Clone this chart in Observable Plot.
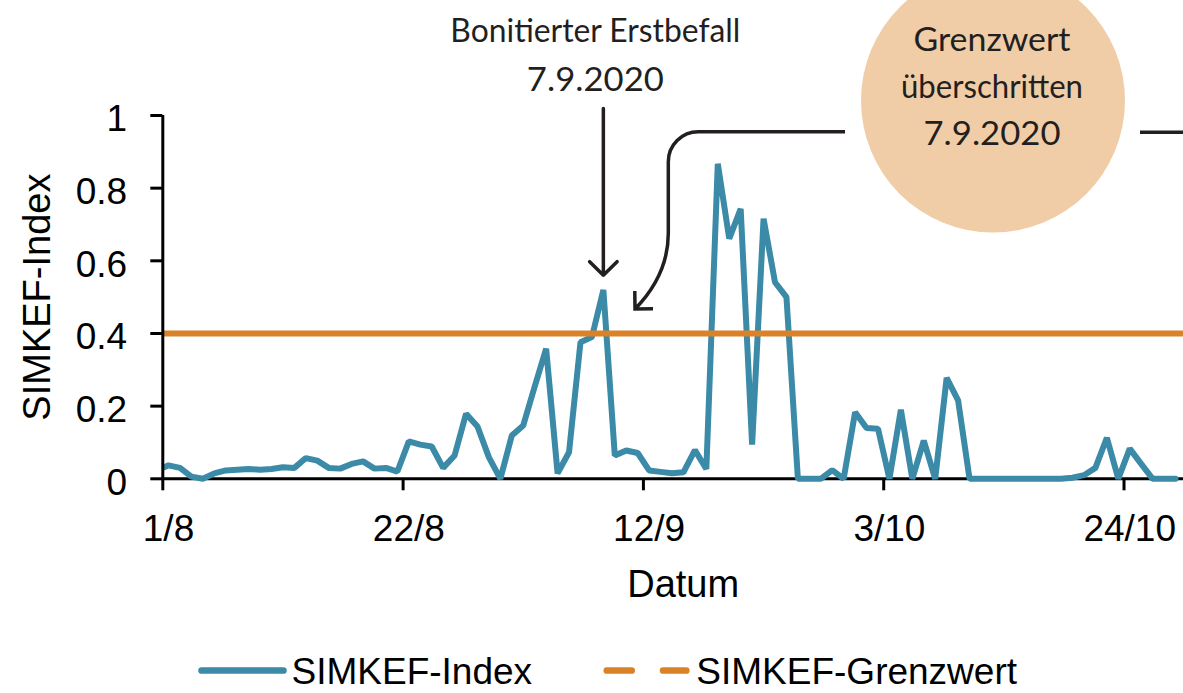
<!DOCTYPE html>
<html>
<head>
<meta charset="utf-8">
<script src="https://cdn.jsdelivr.net/npm/d3@7"></script>
<script src="https://cdn.jsdelivr.net/npm/@observablehq/plot@0.6"></script>
<style>
  html, body { margin: 0; padding: 0; background: #fff; }
  body { width: 1183px; height: 693px; overflow: hidden; font-family: "Liberation Sans", Arial, sans-serif; }
  #chart svg, #legend svg { display: block; }
</style>
</head>
<body>
<div id="chart"></div>
<div id="legend"></div>
<script>
// ---------------- data ----------------
const startDate = "2020-07-31";            // date of the first value (daily values)
const simkefIndex = [
  0.023,
  0.037, 0.030, 0.006, 0.000, 0.015, 0.023, 0.025, 0.027, 0.025, 0.027,
  0.032, 0.030, 0.057, 0.050, 0.030, 0.028, 0.041, 0.048, 0.028, 0.030,
  0.020, 0.103, 0.094, 0.089, 0.030, 0.064, 0.179, 0.144, 0.059, 0.000,
  0.119, 0.147, 0.254, 0.358, 0.015, 0.073, 0.376, 0.390, 0.520, 0.064,
  0.078, 0.071, 0.023, 0.019, 0.015, 0.018, 0.079, 0.027, 0.867, 0.661,
  0.743, 0.094, 0.716, 0.541, 0.500, 0.000, 0.000, 0.000, 0.024, 0.000,
  0.183, 0.140, 0.138, 0.000, 0.190, 0.000, 0.105, 0.000, 0.278, 0.216,
  0.000, 0.000, 0.000, 0.000, 0.000, 0.000, 0.000, 0.000, 0.000, 0.003,
  0.010, 0.030, 0.113, 0.000, 0.083, 0.041, 0.000, 0.000, 0.000
];
const threshold = 0.4;
const seriesNames = ["SIMKEF-Index", "SIMKEF-Grenzwert"];
const yTicks = [0, 0.2, 0.4, 0.6, 0.8, 1];
const xTickDates = ["2020-08-01", "2020-08-22", "2020-09-12", "2020-10-03", "2020-10-24"];
const xTickLabels = ["1/8", "22/8", "12/9", "3/10", "24/10"];
const xDomain = ["2020-08-01T00:00Z", "2020-10-29T04:45Z"];
const axisTitles = {x: "Datum", y: "SIMKEF-Index"};

// annotations (data space)
const firstInfestation = {date: "2020-09-08T12:00Z", from: 1.019, to: 0.560};
const firstInfestationText = [
  {text: "Bonitierter Erstbefall", value: 1.230, width: 290},
  {text: "7.9.2020", value: 1.097, width: 137}
];
const exceedBubble = {date: "2020-10-12T13:12Z", value: 1.041};
const exceedText = [
  {text: "Grenzwert", value: 1.207, width: 157},
  {text: "überschritten", value: 1.077, width: 182},
  {text: "7.9.2020", value: 0.946, width: 137}
];
const connectorPoints = [
  {date: "2020-09-29T15:50Z", value: 0.954},
  {date: "2020-09-14T05:17Z", value: 0.954},
  {date: "2020-09-14T05:17Z", value: 0.675},
  {date: "2020-09-14T05:17Z", value: 0.560},
  {date: "2020-09-11T07:26Z", value: 0.466}
];
const connectorRight = {from: "2020-10-25T10:34Z", to: "2020-10-31T00:00Z", value: 0.954};

// ---------------- styles ----------------
const blue = "#3a8aa8", orange = "#d98228", peach = "#f0cda6", ink = "#231f20";
const annoFont = "Lato, 'Open Sans', sans-serif";

// ---------------- build ----------------
const DAY = 864e5;
const t0 = new Date(startDate + "T12:00:00Z");
const series = simkefIndex.map((v, i) => ({date: new Date(+t0 + i * DAY), value: v}));
const xTicks = xTickDates.map(d => new Date(d + "T00:00:00Z"));
const xLabel = new Map(xTicks.map((d, i) => [+d, xTickLabels[i]]));

function connectorMark(index, scales) {
  const P = connectorPoints.map(p => [scales.x(new Date(p.date)), scales.y(p.value)]);
  const path = d3.path();
  path.moveTo(P[0][0], P[0][1]);
  path.arcTo(P[1][0], P[1][1], P[2][0], P[2][1], 30);
  path.lineTo(P[2][0], P[2][1]);
  path.quadraticCurveTo(P[3][0], P[3][1], P[4][0], P[4][1]);
  const [tx, ty] = P[4], [cx, cy] = P[3];
  const len = Math.hypot(cx - tx, cy - ty), ux = (cx - tx) / len, uy = (cy - ty) / len;
  const L = 18, a = Math.PI / 4;
  const arm = ang => [tx + L * (ux * Math.cos(ang) - uy * Math.sin(ang)), ty + L * (ux * Math.sin(ang) + uy * Math.cos(ang))];
  const [ax, ay] = arm(a), [bx, by] = arm(-a);
  path.moveTo(ax, ay); path.lineTo(tx, ty); path.lineTo(bx, by);
  const el = document.createElementNS("http://www.w3.org/2000/svg", "path");
  el.setAttribute("d", path.toString());
  el.setAttribute("fill", "none");
  el.setAttribute("stroke", ink);
  el.setAttribute("stroke-width", 3.5);
  return el;
}

const W = 1183, H = 630;
const chart = Plot.plot({
  width: W, height: H,
  marginLeft: 162.3, marginRight: 0, marginTop: 115, marginBottom: H - 478.3,
  style: {fontFamily: '"Liberation Sans", Arial, sans-serif', fontSize: "37px", color: "#000", background: "#fff"},
  x: {type: "utc", domain: xDomain.map(d => new Date(d))},
  y: {domain: [0, 1]},
  marks: [
    Plot.ruleY([0], {stroke: "#000", strokeWidth: 3}),
    Plot.axisX({ticks: xTicks, tickSize: 12, strokeWidth: 3, fill: null, label: null}),
    Plot.axisX({ticks: xTicks, tickSize: 0, tickPadding: 35.5, tickFormat: d => xLabel.get(+d), dx: 5.7, fontSize: 37, label: null}),
    Plot.line(series, {x: "date", y: "value", stroke: blue, strokeWidth: 6, strokeLinejoin: "miter", clip: true}),
    Plot.ruleY([threshold], {stroke: orange, strokeWidth: 6}),
    Plot.ruleX([xTicks[0]], {y1: 0, y2: 1, stroke: "#000", strokeWidth: 3}),
    Plot.axisY({ticks: yTicks, tickSize: 12, strokeWidth: 3, fill: null, label: null}),
    Plot.axisY({ticks: yTicks, tickSize: 0, tickPadding: 35.6, dy: 4, fontSize: 37, label: null, tickFormat: d => String(d)}),
    Plot.text([axisTitles.y], {frameAnchor: "left", rotate: -90, dx: -124.5, textAnchor: "middle", lineAnchor: "middle", fontSize: 38}),
    Plot.text([axisTitles.x], {frameAnchor: "bottom", dx: 10, dy: 106.5, textAnchor: "middle", lineAnchor: "middle", fontSize: 38}),
    // annotations
    Plot.arrow([firstInfestation], {x: d => new Date(d.date), y1: "from", y2: "to", stroke: ink, strokeWidth: 3.5, headAngle: 90, headLength: 8.3}),
    Plot.text(firstInfestationText, {x: () => new Date(firstInfestation.date), y: "value", text: "text", dx: -8, fill: ink, fontFamily: annoFont, fontSize: 32, textAnchor: "middle", lineAnchor: "middle"}),
    Plot.dot([exceedBubble], {x: d => new Date(d.date), y: "value", r: 132, fill: peach}),
    Plot.text(exceedText, {x: () => new Date(exceedBubble.date), y: "value", text: "text", dx: -1, fill: ink, fontFamily: annoFont, fontSize: 32, textAnchor: "middle", lineAnchor: "middle"}),
    connectorMark,
    Plot.ruleY([connectorRight], {y: "value", x1: d => new Date(d.from), x2: d => new Date(d.to), stroke: ink, strokeWidth: 3.5})
  ]
});

// let the thick line sit on the axis without being cut at the bottom
chart.querySelectorAll("clipPath rect").forEach(r => {
  const y = +r.getAttribute("y"), h = +r.getAttribute("height");
  r.setAttribute("y", y - 10); r.setAttribute("height", h + 20);
});
// match annotation text widths
const widthFor = new Map([...firstInfestationText, ...exceedText].map(d => [d.text, d.width]));
chart.querySelectorAll("text").forEach(t => {
  if (t.getAttribute("font-family") === annoFont || (t.closest("g") && t.closest("g").getAttribute("font-family") === annoFont)) {
    const w = widthFor.get(t.textContent);
    if (w) { t.setAttribute("textLength", w); t.setAttribute("lengthAdjust", "spacingAndGlyphs"); }
  }
});
document.getElementById("chart").appendChild(chart);

// ---------------- legend (below the chart) ----------------
const leg = d3.select("#legend").append("svg").attr("width", W).attr("height", 63)
  .style("font-family", '"Liberation Sans", Arial, sans-serif');
leg.append("line").attr("x1", 201.6).attr("x2", 283.4).attr("y1", 40.5).attr("y2", 40.5)
  .attr("stroke", blue).attr("stroke-width", 6.7).attr("stroke-linecap", "round");
leg.append("text").attr("x", 291.5).attr("y", 54).attr("font-size", 37).attr("fill", "#000").text(seriesNames[0]);
leg.append("line").attr("x1", 606.8).attr("x2", 686.3).attr("y1", 40.5).attr("y2", 40.5)
  .attr("stroke", orange).attr("stroke-width", 6.7).attr("stroke-linecap", "round").attr("stroke-dasharray", "24.9,31.4");
leg.append("text").attr("x", 696.3).attr("y", 54).attr("font-size", 37).attr("fill", "#000").text(seriesNames[1]);
</script>
</body>
</html>
